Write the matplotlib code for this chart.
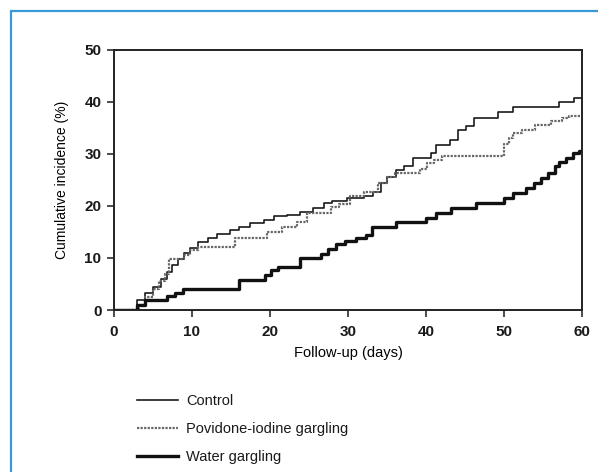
import matplotlib
matplotlib.use('Agg')
import matplotlib.pyplot as plt
from matplotlib.patches import Rectangle

plt.rcParams['font.family'] = ['Liberation Sans', 'DejaVu Sans']
plt.rcParams['text.color'] = '#1a1a1a'

# step curves (day, cumulative incidence %)
control_t = [0, 3, 4, 5, 6, 6.8, 7.5, 8.2, 9, 9.8, 10.8, 12, 13.2, 14.9, 16, 17.5, 19.2,
             20.5, 22.2, 23.9, 25.5, 26.9, 28, 29.9, 32, 33.2, 34.2, 35, 36.1, 37.2, 38.3,
             40.6, 41.3, 43.1, 44.1, 45.1, 46.2, 49.2, 51.1, 57.1, 59.0, 60]
control_v = [0, 2, 3.3, 4.5, 5.9, 7.3, 8.6, 9.8, 11, 12, 13, 13.8, 14.6, 15.4, 16, 16.8, 17.3,
             18, 18.3, 18.9, 19.6, 20.5, 21, 21.5, 22, 22.6, 24.4, 25.6, 26.9, 27.6, 29.2,
             30.1, 31.7, 32.7, 34.6, 35.3, 37, 38.1, 39, 39.9, 40.7, 40.7]

povidone_t = [0, 3.2, 4, 5, 5.8, 6.5, 7, 9, 9.8, 10.8, 15.5, 19.6, 21.5, 23.5, 24.8, 27.8,
              28.8, 30.3, 32, 33.8, 35, 36, 39.2, 40.1, 41, 42, 50, 50.6, 51.2, 52.3, 54,
              56, 57.5, 58.3, 60]
povidone_v = [0, 1, 2.5, 4, 5.5, 7, 9.9, 10.5, 11.5, 12.2, 13.8, 15, 16, 17, 18.7, 19.8,
              20.3, 22, 22.6, 24.4, 25.6, 26.3, 27.2, 28.3, 28.8, 29.6, 32, 33, 34, 34.6, 35.6,
              36.3, 36.9, 37.3, 37.3]

water_t = [0, 3, 4, 6.8, 7.8, 8.9, 16, 19.3, 20.1, 21, 23.9, 26.6, 27.5, 28.5, 29.6, 31,
           32.3, 33.1, 36.1, 40, 41.3, 43.2, 46.4, 50, 51.1, 52.8, 53.9, 54.8, 55.6, 56.5,
           57.1, 58, 58.8, 59.6, 60]
water_v = [0, 1, 1.9, 2.6, 3.3, 4.1, 5.8, 6.7, 7.7, 8.3, 10, 10.8, 11.8, 12.6, 13.2, 13.8,
           14.4, 16, 17, 17.6, 18.6, 19.6, 20.5, 21.5, 22.4, 23.4, 24.4, 25.3, 26.3, 27.6,
           28.5, 29.2, 30.1, 30.5, 30.5]

fig = plt.figure(figsize=(5.98, 4.72), dpi=100)
ax = fig.add_axes([0.1906, 0.3432, 0.7826, 0.551])

ax.step(control_t, control_v, where='post', color='#1a1a1a', lw=1.2, label='Control')
ax.step(povidone_t, povidone_v, where='post', color='#666666', lw=1.6, ls=(0, (1, 0.6)),
        label='Povidone-iodine gargling')
ax.step(water_t, water_v, where='post', color='#111111', lw=2.4, label='Water gargling')

ax.set_xlim(0, 60)
ax.set_ylim(0, 50)
ax.set_xticks(range(0, 61, 10))
ax.set_yticks(range(0, 51, 10))
ax.tick_params(direction='out', length=5, width=1.1, labelsize=11, colors='#1a1a1a')
ax.tick_params(axis='x', pad=6)
ax.tick_params(axis='y', pad=4)
for lbl in ax.get_xticklabels() + ax.get_yticklabels():
    lbl.set_fontweight('bold')
for s in ax.spines.values():
    s.set_linewidth(1.4)
    s.set_color('#222222')

ax.set_xlabel('Follow-up (days)', fontsize=10.5, labelpad=5)
ax.set_ylabel('Cumulative incidence (%)', fontsize=10, labelpad=11)

handles, labels = ax.get_legend_handles_labels()
fig.legend(handles, labels, loc='upper left', bbox_to_anchor=(0.229, 0.165),
           frameon=False, fontsize=10.5, handlelength=2.8, handletextpad=0.55,
           labelspacing=0.95, borderpad=0, borderaxespad=0)

# blue frame around the panel (right and bottom edges cut off)
fig.patches.append(Rectangle((11 / 598, -0.1), 1.2, 1.1 - 11 / 472, transform=fig.transFigure,
                             fill=False, edgecolor='#3a9ad9', lw=1.6))

plt.savefig('out.png', dpi=100)
